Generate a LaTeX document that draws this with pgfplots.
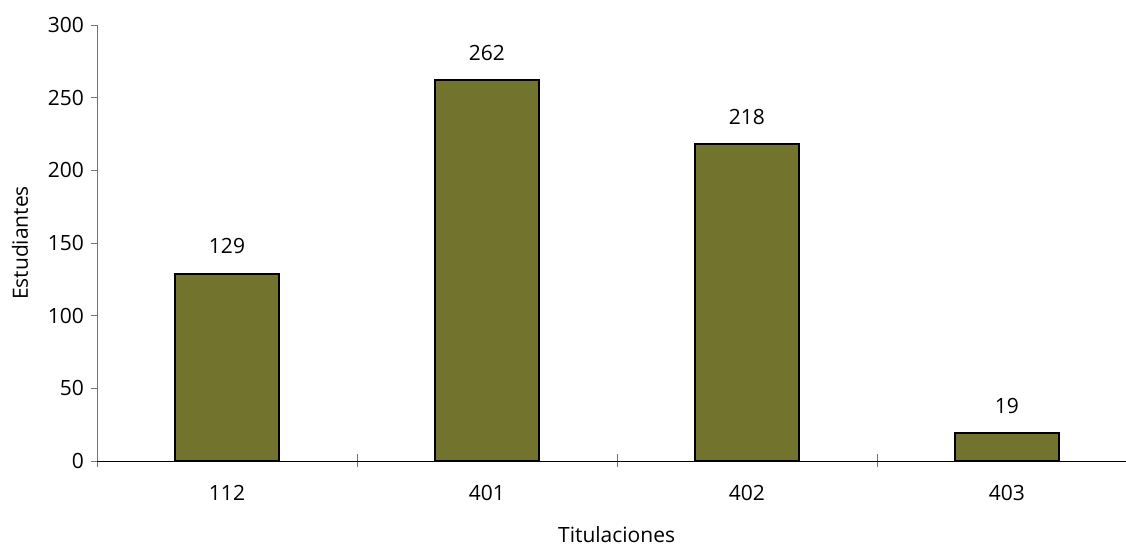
\documentclass[border=0pt]{standalone}
\usepackage{pgfplots}
\pgfplotsset{compat=1.18}
\usepackage{fontspec}
\setmainfont{Open Sans}
\definecolor{olivebar}{RGB}{114,116,46}
\begin{document}
\begin{tikzpicture}[font=\fontsize{10.5}{12}\selectfont]
\begin{axis}[
  width=514.5pt, height=218pt, scale only axis,
  axis x line*=bottom, axis y line*=left,
  x axis line style={black, -}, y axis line style={gray!90!black, -},
  xmin=-0.5, xmax=3.458, ymin=0, ymax=300,
  xtick={0,1,2,3}, xticklabels={112,401,402,403},
  major x tick style={draw=none},
  minor xtick={-0.5,0.5,1.5,2.5},
  minor x tick style={gray!90!black, thin},
  minor tick length=6.5pt, xtick align=center,
  ytick={0,50,...,300}, ytick align=outside, major tick length=3pt,
  y tick style={gray!90!black, thin},
  xticklabel style={yshift=-7pt},
  /pgf/number format/assume math mode=true,
  ylabel={Estudiantes}, xlabel={Titulaciones},
  x label style={at={(axis description cs:0.505,0)}, anchor=center, yshift=-37pt},
  y label style={at={(axis description cs:0,0.5)}, anchor=center, rotate=0, yshift=38.5pt},
  nodes near coords,
  every node near coord/.append style={font=\fontsize{10.5}{12}\selectfont, yshift=6pt},
]
\addplot[ybar, bar width=52pt, fill=olivebar, draw=black, line width=1pt]
  coordinates {(0,129) (1,262) (2,218) (3,19)};
\end{axis}
\pgfresetboundingbox
\path ([shift={(-48.5pt,-42.5pt)}]current axis.south west) rectangle ([shift={(0pt,12.5pt)}]current axis.north east);
\end{tikzpicture}
\end{document}
